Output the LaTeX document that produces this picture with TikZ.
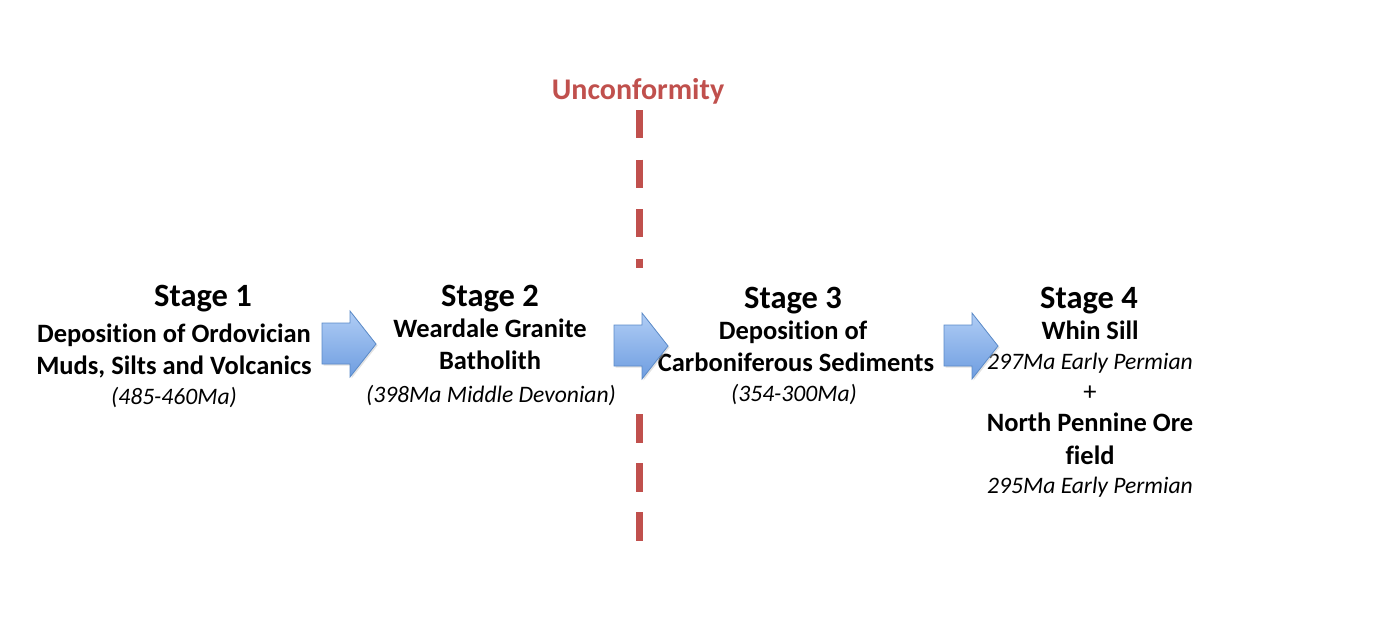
\documentclass[tikz,border=0pt]{standalone}
\usepackage{fontspec}
\setmainfont{Carlito}[Ligatures=NoCommon]
\definecolor{unc}{HTML}{C0504D}
\definecolor{arrtop}{HTML}{B0CDF5}
\definecolor{arrbot}{HTML}{6E9DE0}
\definecolor{arrline}{HTML}{5A8AC8}
\tikzset{
  title/.style={anchor=base, inner sep=0, font=\bfseries\fontsize{32.5}{38}\selectfont},
  body/.style={anchor=base, inner sep=0, font=\bfseries\fontsize{26.5}{32}\selectfont},
  plus/.style={anchor=base, inner sep=0, font=\fontsize{26.5}{32}\selectfont},
  date/.style={anchor=base, inner sep=0, font=\itshape\fontsize{23.6}{28}\selectfont},
  unctext/.style={anchor=base, inner sep=0, text=unc, font=\bfseries\fontsize{30}{35}\selectfont},
  uncline/.style={draw=unc, line width=7pt},
  pics/barrow/.style={code={
    \fill[black!25, opacity=0.45] (1.5,-18.5) -- (29.5,-18.5) -- (29.5,-30.5) -- (55.5,2.5) -- (29.5,35.5) -- (29.5,22.5) -- (1.5,22.5) -- cycle;
    \shade[top color=arrtop, bottom color=arrbot, draw=arrline, line width=0.8pt]
      (0,-20) -- (28,-20) -- (28,-32) -- (54,1) -- (28,34) -- (28,21) -- (0,21) -- cycle;
  }}
}
\begin{document}
\begin{tikzpicture}[x=1pt,y=-1pt]
\useasboundingbox (0,0) rectangle (1390,624);
% Stage 1
\node[title] (s1t) at (203,306) {Stage 1};
\node[body] (s1a) at (174,342) {Deposition of Ordovician};
\node[body] (s1b) at (174,374) {Muds, Silts and Volcanics};
\node[date] (s1c) at (174,404) {(485-460Ma)};
% Stage 2
\node[title] (s2t) at (490,306) {Stage 2};
\node[body] (s2a) at (490,337) {Weardale Granite};
\node[body] (s2b) at (490,369) {Batholith};
\node[date] (s2c) at (491,402) {(398Ma Middle Devonian)};
% Stage 3
\node[title] (s3t) at (793,308) {Stage 3};
\node[body] (s3a) at (793,339) {Deposition of};
\node[body] (s3b) at (796,371) {Carboniferous Sediments};
\node[date] (s3c) at (794,401) {(354-300Ma)};
% Stage 4
\node[title] (s4t) at (1089,308) {Stage 4};
\node[body] (s4a) at (1090,339) {Whin Sill};
\node[date] (s4b) at (1090,369) {297Ma Early Permian};
\node[plus] (s4c) at (1090,400) {+};
\node[body] (s4d) at (1090,431) {North Pennine Ore};
\node[body] (s4e) at (1090,464) {field};
\node[date] (s4f) at (1090,493) {295Ma Early Permian};
% Arrows
\pic (a1) at (322,343) {barrow};
\pic (a2) at (614,345) {barrow};
\pic (a3) at (944,345) {barrow};
% Unconformity
\node[unctext] (unc) at (638,99) {Unconformity};
\coordinate (u1) at (639,110);
\coordinate (u2) at (639,268);
\coordinate (u3) at (639,414);
\coordinate (u4) at (639,543);
\draw[uncline, dash pattern=on 28pt off 21.5pt] (u1) -- (u2);
\draw[uncline, dash pattern=on 29pt off 20pt] (u3) -- (u4);
\end{tikzpicture}
\end{document}
